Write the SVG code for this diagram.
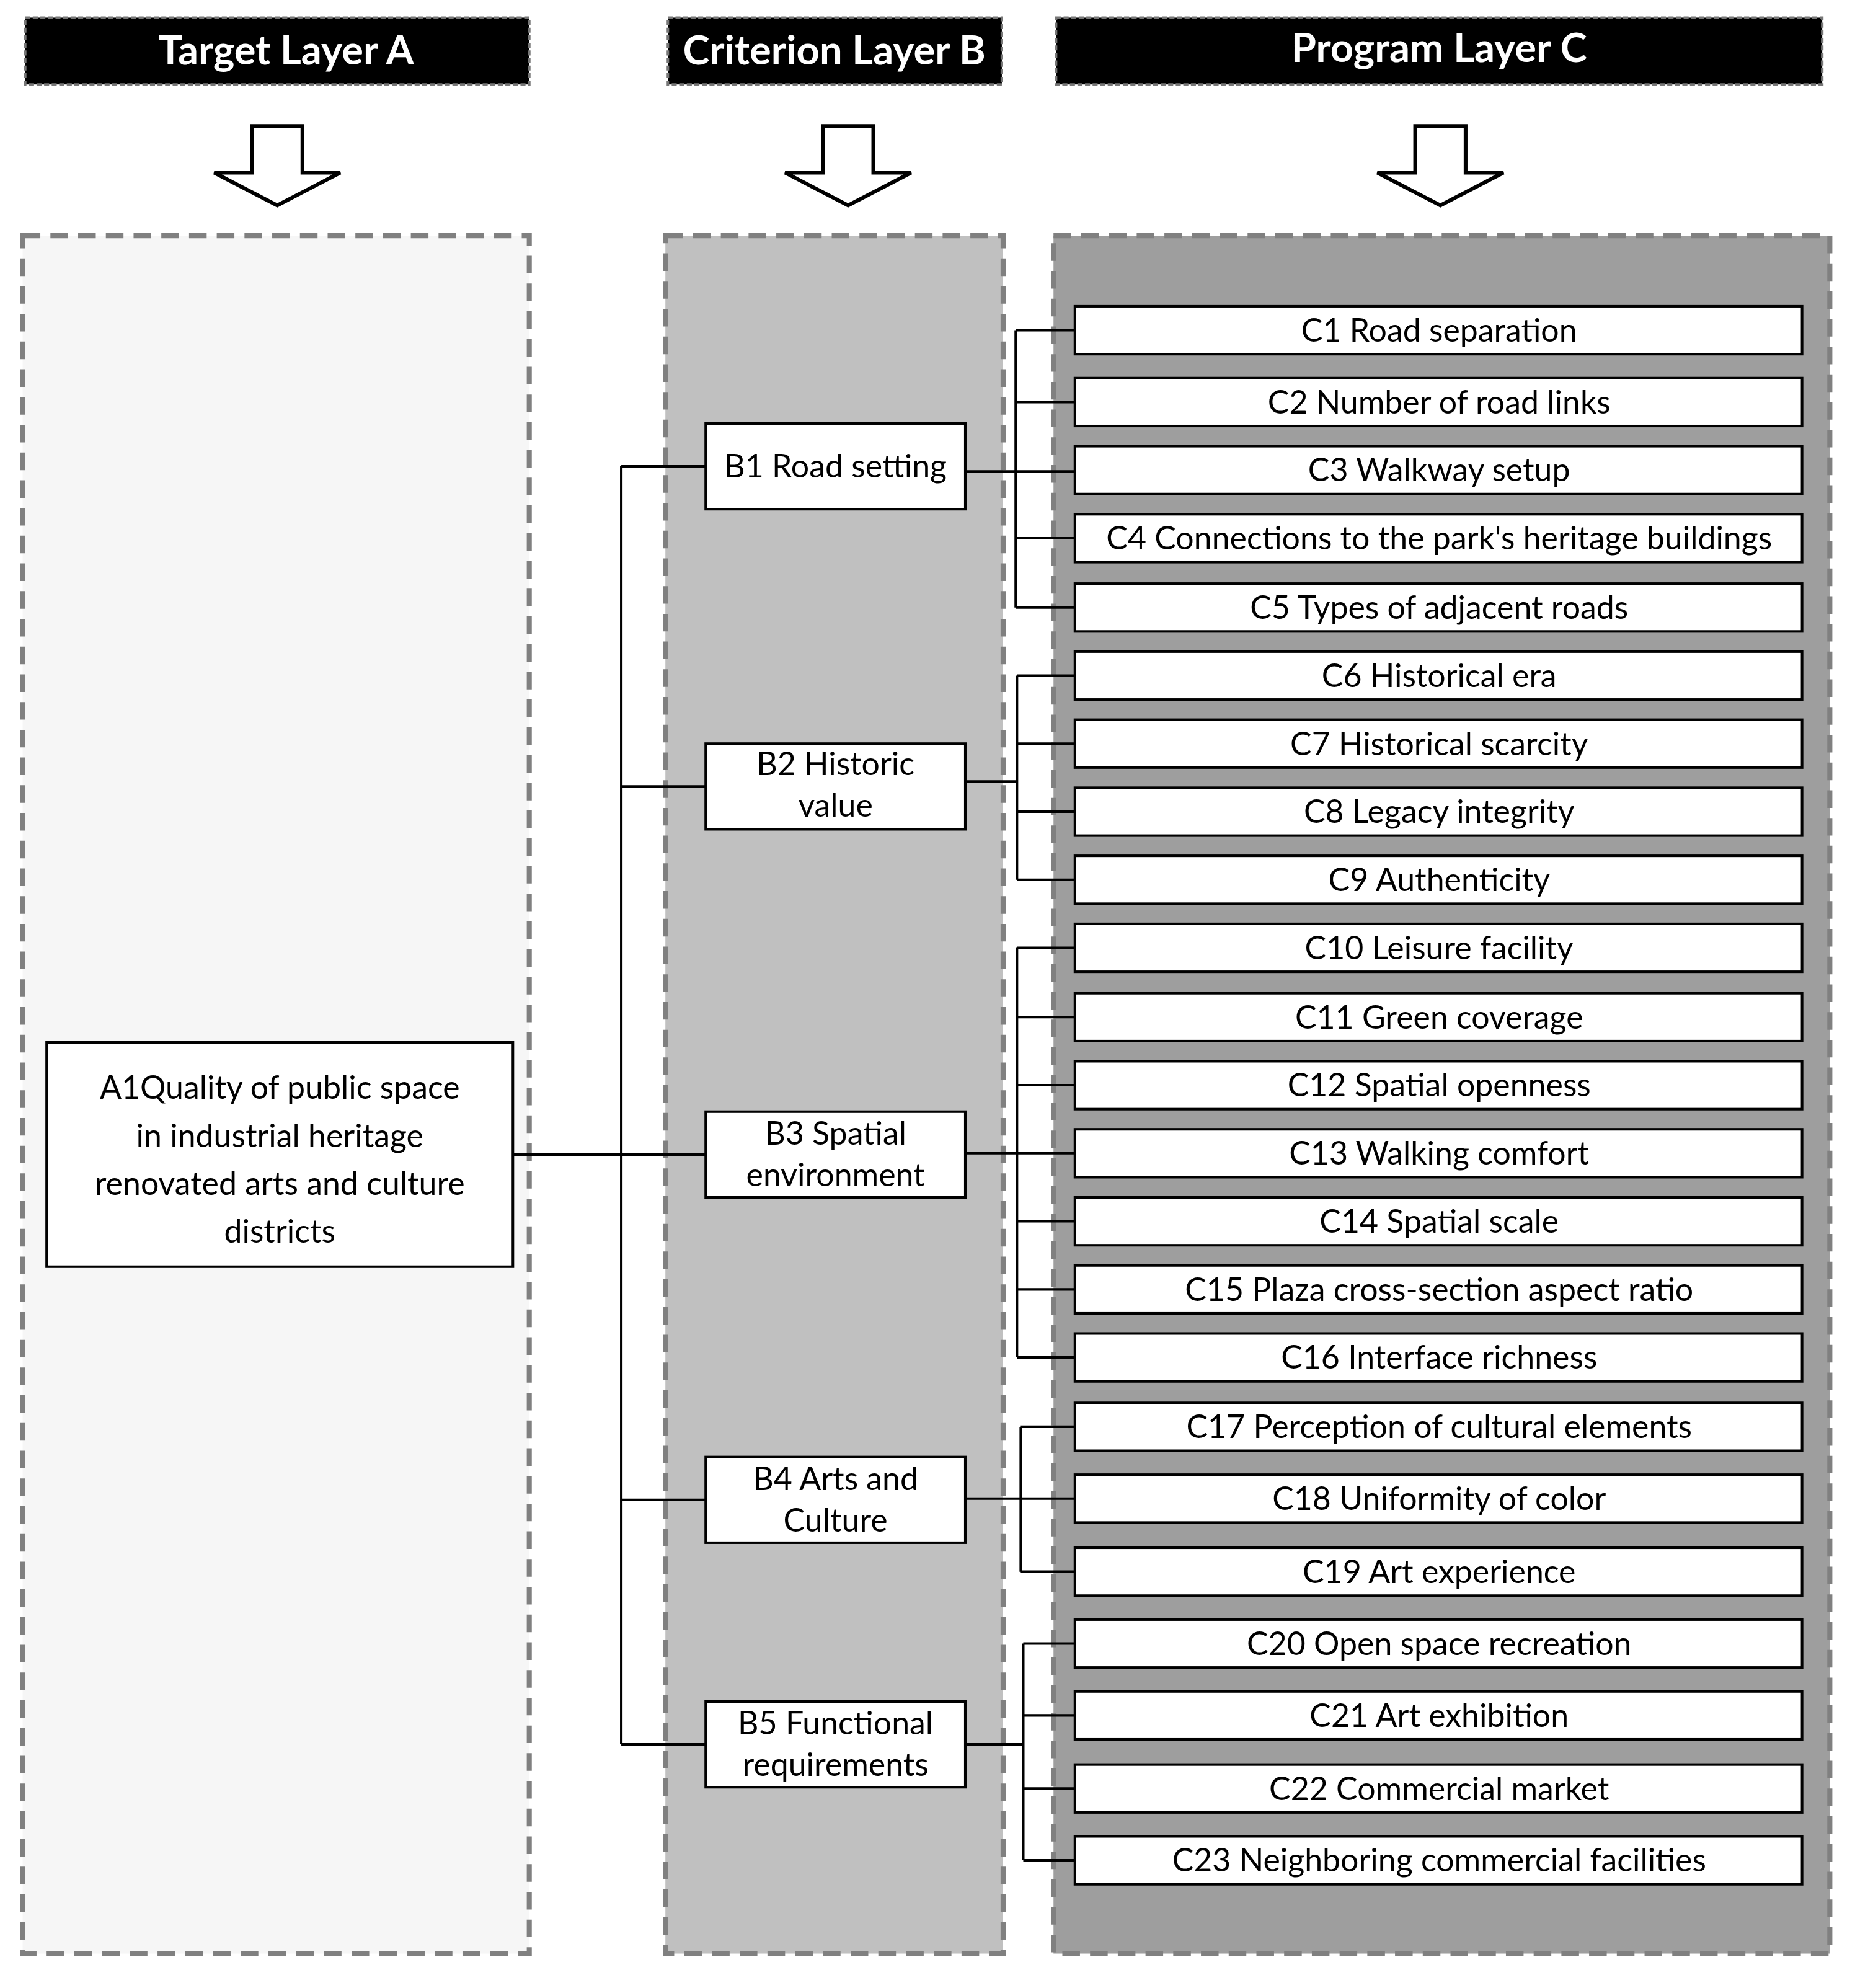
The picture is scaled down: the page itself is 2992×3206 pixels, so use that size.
<svg xmlns="http://www.w3.org/2000/svg" width="2992" height="3206" viewBox="0 0 2992 3206">
<style>
.hdr{fill:#000;stroke:#777;stroke-width:2;stroke-dasharray:4 2}
.ht{fill:#fff;font-family:Lato,"Open Sans",sans-serif;font-weight:bold;font-size:32px;text-anchor:middle}
.arr{fill:#fff;stroke:#000;stroke-width:3}
.pan{stroke:#808080;stroke-width:4;stroke-dasharray:14 8}
.box{fill:#fff;stroke:#000;stroke-width:2}
.t{font-family:Lato,"Open Sans",sans-serif;font-size:25.5px;text-anchor:middle;fill:#000}
.ln{fill:none;stroke:#000;stroke-width:2}
</style>
<rect width="2992" height="3206" fill="#fff"/>
<g transform="scale(2.0326)">
<g id="headers">
<rect class="hdr" x="20" y="14" width="400" height="53"/><text class="ht" x="227" y="51">Target Layer A</text>
<rect class="hdr" x="530" y="14" width="265" height="53"/><text class="ht" x="662" y="51">Criterion Layer B</text>
<rect class="hdr" x="838" y="14" width="608" height="53"/><text class="ht" x="1142" y="49">Program Layer C</text>
</g>
<g id="arrows">
<path class="arr" d="M200,100 H240 V137 H270 L220,163 L170,137 H200 Z"/>
<path class="arr" d="M653,100 H693 V137 H723 L673,163 L623,137 H653 Z"/>
<path class="arr" d="M1123,100 H1163 V137 H1193 L1143,163 L1093,137 H1123 Z"/>
</g>
<g id="panels">
<rect class="pan" x="18" y="187" width="402" height="1363" fill="#f6f6f6"/>
<rect class="pan" x="528" y="187" width="268" height="1363" fill="#c0c0c0"/>
<rect class="pan" x="836" y="187" width="616" height="1363" fill="#9e9e9e"/>
</g>
<g id="connectors">
<path class="ln" d="M407,916 H560 M493,370 V1384 M493,370 H560 M493,624 H560 M493,1190 H560 M493,1384 H560"/>
<path class="ln" d="M766,374 H853 M806,262 V482 M806,262 H853 M806,319 H853 M806,427 H853 M806,482 H853"/>
<path class="ln" d="M766,620 H807 M807,536 V698 M807,536 H853 M807,590 H853 M807,644 H853 M807,698 H853"/>
<path class="ln" d="M766,915 H853 M807,752 V1077 M807,752 H853 M807,807 H853 M807,861 H853 M807,969 H853 M807,1023 H853 M807,1077 H853"/>
<path class="ln" d="M766,1189 H853 M810,1132 V1247 M810,1132 H853 M810,1247 H853"/>
<path class="ln" d="M766,1384 H812 M812,1304 V1476 M812,1304 H853 M812,1361 H853 M812,1419 H853 M812,1476 H853"/>
</g>
<g id="A1"><rect class="box" x="37" y="827" width="370" height="178"/>
<text class="t" font-size="28" x="222" y="872">A1Quality of public space</text>
<text class="t" font-size="28" x="222" y="910">in industrial heritage</text>
<text class="t" font-size="28" x="222" y="948">renovated arts and culture</text>
<text class="t" font-size="28" x="222" y="986">districts</text></g>
<g id="B1"><rect class="box" x="560" y="336" width="206" height="68"/><text class="t" x="663" y="379">B1 Road setting</text></g>
<g id="B2"><rect class="box" x="560" y="590" width="206" height="68"/><text class="t" x="663" y="615">B2 Historic</text><text class="t" x="663" y="648">value</text></g>
<g id="B3"><rect class="box" x="560" y="882" width="206" height="68"/><text class="t" x="663" y="908">B3 Spatial</text><text class="t" x="663" y="941">environment</text></g>
<g id="B4"><rect class="box" x="560" y="1156" width="206" height="68"/><text class="t" x="663" y="1182">B4 Arts and</text><text class="t" x="663" y="1215">Culture</text></g>
<g id="B5"><rect class="box" x="560" y="1350" width="206" height="68"/><text class="t" x="663" y="1376">B5 Functional</text><text class="t" x="663" y="1409">requirements</text></g>
<g id="C1"><rect class="box" x="853" y="243" width="577" height="38"/><text class="t" x="1142" y="271">C1 Road separation</text></g>
<g id="C2"><rect class="box" x="853" y="300" width="577" height="38"/><text class="t" x="1142" y="328">C2 Number of road links</text></g>
<g id="C3"><rect class="box" x="853" y="354" width="577" height="38"/><text class="t" x="1142" y="382">C3 Walkway setup</text></g>
<g id="C4"><rect class="box" x="853" y="408" width="577" height="38"/><text class="t" x="1142" y="436" font-size="25">C4 Connections to the park's heritage buildings</text></g>
<g id="C5"><rect class="box" x="853" y="463" width="577" height="38"/><text class="t" x="1142" y="491">C5 Types of adjacent roads</text></g>
<g id="C6"><rect class="box" x="853" y="517" width="577" height="38"/><text class="t" x="1142" y="545">C6 Historical era</text></g>
<g id="C7"><rect class="box" x="853" y="571" width="577" height="38"/><text class="t" x="1142" y="599">C7 Historical scarcity</text></g>
<g id="C8"><rect class="box" x="853" y="625" width="577" height="38"/><text class="t" x="1142" y="653">C8 Legacy integrity</text></g>
<g id="C9"><rect class="box" x="853" y="679" width="577" height="38"/><text class="t" x="1142" y="707">C9 Authenticity</text></g>
<g id="C10"><rect class="box" x="853" y="733" width="577" height="38"/><text class="t" x="1142" y="761">C10 Leisure facility</text></g>
<g id="C11"><rect class="box" x="853" y="788" width="577" height="38"/><text class="t" x="1142" y="816">C11 Green coverage</text></g>
<g id="C12"><rect class="box" x="853" y="842" width="577" height="38"/><text class="t" x="1142" y="870">C12 Spatial openness</text></g>
<g id="C13"><rect class="box" x="853" y="896" width="577" height="38"/><text class="t" x="1142" y="924">C13 Walking comfort</text></g>
<g id="C14"><rect class="box" x="853" y="950" width="577" height="38"/><text class="t" x="1142" y="978">C14 Spatial scale</text></g>
<g id="C15"><rect class="box" x="853" y="1004" width="577" height="38"/><text class="t" x="1142" y="1032">C15 Plaza cross-section aspect ratio</text></g>
<g id="C16"><rect class="box" x="853" y="1058" width="577" height="38"/><text class="t" x="1142" y="1086">C16 Interface richness</text></g>
<g id="C17"><rect class="box" x="853" y="1113" width="577" height="38"/><text class="t" x="1142" y="1141">C17 Perception of cultural elements</text></g>
<g id="C18"><rect class="box" x="853" y="1170" width="577" height="38"/><text class="t" x="1142" y="1198">C18 Uniformity of color</text></g>
<g id="C19"><rect class="box" x="853" y="1228" width="577" height="38"/><text class="t" x="1142" y="1256">C19 Art experience</text></g>
<g id="C20"><rect class="box" x="853" y="1285" width="577" height="38"/><text class="t" x="1142" y="1313">C20 Open space recreation</text></g>
<g id="C21"><rect class="box" x="853" y="1342" width="577" height="38"/><text class="t" x="1142" y="1370">C21 Art exhibition</text></g>
<g id="C22"><rect class="box" x="853" y="1400" width="577" height="38"/><text class="t" x="1142" y="1428">C22 Commercial market</text></g>
<g id="C23"><rect class="box" x="853" y="1457" width="577" height="38"/><text class="t" x="1142" y="1485">C23 Neighboring commercial facilities</text></g>
</g>
</svg>
